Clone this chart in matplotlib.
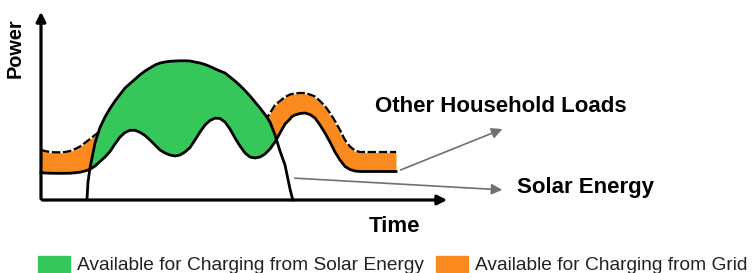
import numpy as np
import matplotlib.pyplot as plt
from matplotlib.patches import Patch

# schematic, in pixel units (y grows downward, axis at 200)
t = [41, 45, 50, 55, 60, 65, 70, 75, 80, 85,
     87, 88, 90, 95, 100, 105, 110, 115, 120, 125,
     130, 135, 140, 145, 150, 155, 160, 165, 170, 175,
     180, 185, 190, 195, 200, 205, 210, 215, 220, 225,
     230, 235, 240, 245, 250, 255, 260, 265, 270, 275,
     280, 285, 290, 292, 293, 295, 300, 305, 310, 315,
     320, 325, 330, 335, 340, 345, 350, 355, 360, 365,
     370, 375, 380, 385, 390, 396]
load_low = [172.5, 173, 173.2, 173.3, 173.3, 173.3, 173.2, 172.8, 172.2, 171,
            170.4, 170, 169.3, 166, 161.5, 157, 151.5, 144, 137, 132.5,
            130.3, 130.3, 132.3, 135.5, 140, 145, 150, 153, 155, 156,
            155, 152, 147.5, 140, 132, 125, 120.5, 118.2, 118.5, 122,
            129, 138, 146, 153, 157, 158, 157, 154, 149, 142,
            133, 124, 119, 116.5, 116, 115, 113.5, 113, 114.5, 118,
            125, 133, 142, 152, 160, 166.5, 169.5, 171, 171.5, 171.5,
            171.5, 171.5, 171.5, 171.5, 171.5, 171.5]
load_high = [150, 151, 152, 152.3, 152.3, 152, 151, 149, 146.5, 142.8,
             141.3, 140.5, 139, 135, 131, 127, 122, 116, 111, 108,
             107, 108, 110, 113, 117, 122, 127, 131, 133, 134,
             133, 130, 125, 117, 109, 102, 98, 96.5, 97, 100,
             106, 114, 122, 130, 134, 132, 128, 121, 113, 105,
             101, 97, 94.5, 94, 93.8, 93.3, 93, 93, 94.5, 96.5,
             101, 106, 113, 121, 130, 140, 146.5, 150.5, 152, 152,
             152, 152, 152, 152, 152, 152]
solar = [200, 200, 200, 200, 200, 200, 200, 200, 200, 200,
         199, 182, 168, 143, 127.5, 117, 108.5, 101, 94.5, 88,
         83.6, 79.2, 74.8, 71, 68, 65, 63, 62, 61.3, 61,
         60.8, 60.8, 61, 62, 63, 64.5, 66.5, 68.8, 71, 73,
         77, 81, 85.5, 90.5, 96, 102, 108, 114.5, 122, 135,
         151, 165, 189, 197, 200, 200, 200, 200, 200, 200,
         200, 200, 200, 200, 200, 200, 200, 200, 200, 200,
         200, 200, 200, 200, 200, 200]

green = '#36C75B'
orange = '#FB8A1E'
font = 'Liberation Sans'

t = np.array(t)
load_low = np.array(load_low)
load_high = np.array(load_high)
solar = np.array(solar)

fig = plt.figure(figsize=(7.54, 2.73), dpi=100)
ax = fig.add_axes([0, 0, 1, 1])
ax.set_xlim(0, 754)
ax.set_ylim(273, 0)
ax.axis('off')

# grid band (orange) between the two load lines
ax.fill_between(t, load_high, load_low, color=orange, lw=0, zorder=1)
ax.plot(t, load_high, color='black', lw=1.6, ls=(0, (3.8, 1.2)), gapcolor='white', zorder=2)
# solar surplus (green) where solar is above the load
ax.fill_between(t, solar, load_low, where=solar < load_low, interpolate=True,
                color=green, lw=0, zorder=3)
ax.plot(t, load_low, color='black', lw=2, zorder=4, solid_joinstyle='round')
on = (t >= 87) & (t <= 293)
ax.plot(t[on], solar[on], color='black', lw=2, zorder=4, solid_joinstyle='round')

# axes arrows
ax.annotate('', xy=(41, 9), xytext=(41, 201.5),
            arrowprops=dict(arrowstyle='-|>', lw=2.3, color='black', mutation_scale=14), zorder=5)
ax.annotate('', xy=(450, 200), xytext=(39.5, 200),
            arrowprops=dict(arrowstyle='-|>', lw=2.3, color='black', mutation_scale=14), zorder=5)
ax.text(15.5, 48, 'Power', rotation=90, ha='center', va='center', fontsize=14.3,
        fontweight='bold', family=font)
ax.text(394.5, 226, 'Time', ha='center', va='center', fontsize=16,
        fontweight='bold', family=font)

# callouts
ax.annotate('', xy=(505, 128), xytext=(398, 171),
            arrowprops=dict(arrowstyle='-|>', lw=1.2, color='#707070', mutation_scale=16))
ax.annotate('', xy=(505, 190), xytext=(292, 178),
            arrowprops=dict(arrowstyle='-|>', lw=1.2, color='#707070', mutation_scale=16))
ax.text(375, 106, 'Other Household Loads', ha='left', va='center', fontsize=16,
        fontweight='bold', family=font)
ax.text(517, 188, 'Solar Energy', ha='left', va='center', fontsize=16,
        fontweight='bold', family=font)

handles = [Patch(color=green, label='Available for Charging from Solar Energy'),
           Patch(color=orange, label='Available for Charging from Grid')]
leg = ax.legend(handles=handles, ncol=2, loc='center left', bbox_to_anchor=(38 / 754, 8 / 273),
                frameon=False, prop={'family': font, 'size': 13.75},
                borderpad=0, borderaxespad=0,
                handlelength=1.67, handleheight=0.95, handletextpad=0.37, columnspacing=0.63)
for txt in leg.get_texts():
    txt.set_color('#222222')

fig.savefig('out.png', dpi=100)
